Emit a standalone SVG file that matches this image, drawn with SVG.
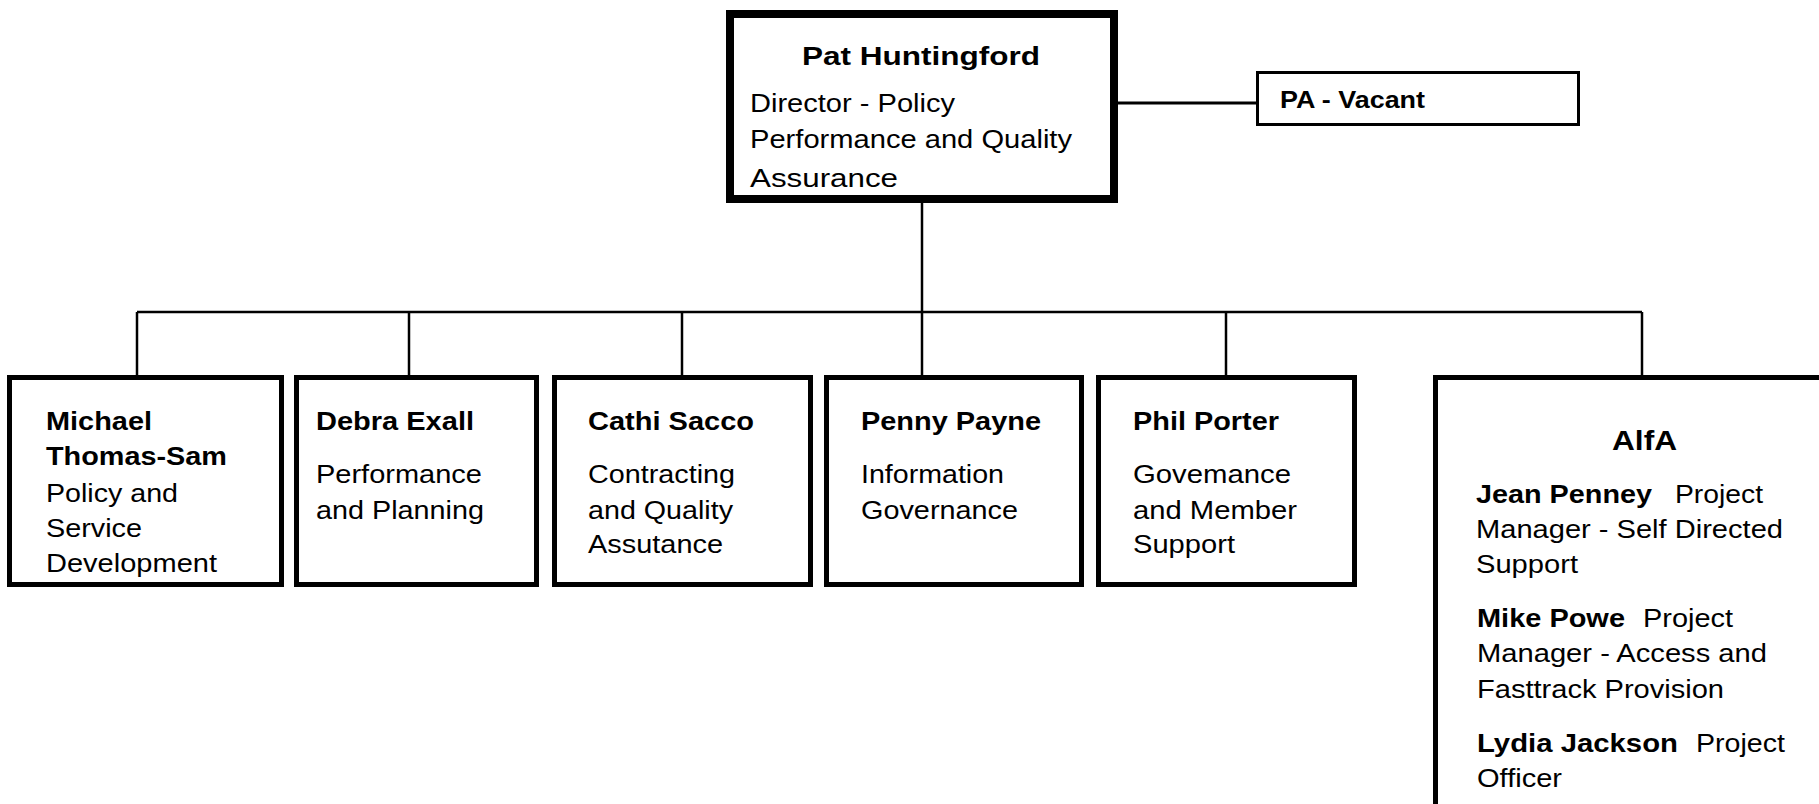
<svg xmlns="http://www.w3.org/2000/svg" width="1819" height="804" viewBox="0 0 1819 804">
<style>
  .box{fill:#fff;stroke:#000;stroke-width:5}
  .top{fill:#fff;stroke:#000;stroke-width:8}
  .thin{fill:#fff;stroke:#000;stroke-width:3}
  .ln{fill:none;stroke:#000;stroke-width:2.5}
  text{font-family:"Liberation Sans",Arial,sans-serif;font-size:25.5px;fill:#000}
  .b{font-weight:bold}
</style>
<rect width="1819" height="804" fill="#fff"/>
<g id="connectors">
  <line class="ln" x1="922" y1="203" x2="922" y2="312"/>
  <line class="ln" x1="1118" y1="103" x2="1257" y2="103" style="stroke-width:3"/>
  <line class="ln" x1="137" y1="312" x2="1642" y2="312"/>
  <line class="ln" x1="137" y1="312" x2="137" y2="376"/>
  <line class="ln" x1="409" y1="312" x2="409" y2="376"/>
  <line class="ln" x1="682" y1="312" x2="682" y2="376"/>
  <line class="ln" x1="922" y1="312" x2="922" y2="376"/>
  <line class="ln" x1="1226" y1="312" x2="1226" y2="376"/>
  <line class="ln" x1="1642" y1="312" x2="1642" y2="376"/>
</g>
<g id="node-pat">
  <rect class="top" x="730" y="14" width="384" height="185"/>
  <text class="b" x="802" y="65" textLength="238" lengthAdjust="spacingAndGlyphs">Pat Huntingford</text>
  <text x="750" y="112" textLength="205" lengthAdjust="spacingAndGlyphs">Director - Policy</text>
  <text x="750" y="148" textLength="322" lengthAdjust="spacingAndGlyphs">Performance and Quality</text>
  <text x="750" y="187" textLength="148" lengthAdjust="spacingAndGlyphs">Assurance</text>
</g>
<g id="node-pa">
  <rect class="thin" x="1257.5" y="72.5" width="321" height="52"/>
  <text class="b" x="1280" y="108" style="font-size:23px" textLength="145" lengthAdjust="spacingAndGlyphs">PA - Vacant</text>
</g>
<g id="node-michael">
  <rect class="box" x="9.5" y="377.5" width="272" height="207"/>
  <text class="b" x="46" y="430" textLength="106" lengthAdjust="spacingAndGlyphs">Michael</text>
  <text class="b" x="46" y="465" textLength="181" lengthAdjust="spacingAndGlyphs">Thomas-Sam</text>
  <text x="46" y="502" textLength="132" lengthAdjust="spacingAndGlyphs">Policy and</text>
  <text x="46" y="537" textLength="96" lengthAdjust="spacingAndGlyphs">Service</text>
  <text x="46" y="572" textLength="171" lengthAdjust="spacingAndGlyphs">Development</text>
</g>
<g id="node-debra">
  <rect class="box" x="296.5" y="377.5" width="240" height="207"/>
  <text class="b" x="316" y="430" textLength="158" lengthAdjust="spacingAndGlyphs">Debra Exall</text>
  <text x="316" y="483" textLength="166" lengthAdjust="spacingAndGlyphs">Performance</text>
  <text x="316" y="519" textLength="168" lengthAdjust="spacingAndGlyphs">and Planning</text>
</g>
<g id="node-cathi">
  <rect class="box" x="554.5" y="377.5" width="256" height="207"/>
  <text class="b" x="588" y="430" textLength="166" lengthAdjust="spacingAndGlyphs">Cathi Sacco</text>
  <text x="588" y="483" textLength="147" lengthAdjust="spacingAndGlyphs">Contracting</text>
  <text x="588" y="519" textLength="145" lengthAdjust="spacingAndGlyphs">and Quality</text>
  <text x="588" y="553" textLength="135" lengthAdjust="spacingAndGlyphs">Assutance</text>
</g>
<g id="node-penny">
  <rect class="box" x="826.5" y="377.5" width="255" height="207"/>
  <text class="b" x="861" y="430" textLength="180" lengthAdjust="spacingAndGlyphs">Penny Payne</text>
  <text x="861" y="483" textLength="143" lengthAdjust="spacingAndGlyphs">Information</text>
  <text x="861" y="519" textLength="157" lengthAdjust="spacingAndGlyphs">Governance</text>
</g>
<g id="node-phil">
  <rect class="box" x="1098.5" y="377.5" width="256" height="207"/>
  <text class="b" x="1133" y="430" textLength="146" lengthAdjust="spacingAndGlyphs">Phil Porter</text>
  <text x="1133" y="483" textLength="158" lengthAdjust="spacingAndGlyphs">Govemance</text>
  <text x="1133" y="519" textLength="164" lengthAdjust="spacingAndGlyphs">and Member</text>
  <text x="1133" y="553" textLength="102" lengthAdjust="spacingAndGlyphs">Support</text>
</g>
<g id="node-alfa">
  <rect class="box" x="1435.5" y="377.5" width="500" height="500"/>
  <text class="b" x="1612" y="450" style="font-size:28px" textLength="65" lengthAdjust="spacingAndGlyphs">AlfA</text>
  <text class="b" x="1476" y="503" textLength="176" lengthAdjust="spacingAndGlyphs">Jean Penney</text>
  <text x="1675" y="503" textLength="88" lengthAdjust="spacingAndGlyphs">Project</text>
  <text x="1476" y="538" textLength="307" lengthAdjust="spacingAndGlyphs">Manager - Self Directed</text>
  <text x="1476" y="573" textLength="102" lengthAdjust="spacingAndGlyphs">Support</text>
  <text class="b" x="1477" y="627" textLength="148" lengthAdjust="spacingAndGlyphs">Mike Powe</text>
  <text x="1643" y="627" textLength="90" lengthAdjust="spacingAndGlyphs">Project</text>
  <text x="1477" y="662" textLength="290" lengthAdjust="spacingAndGlyphs">Manager - Access and</text>
  <text x="1477" y="698" textLength="247" lengthAdjust="spacingAndGlyphs">Fasttrack Provision</text>
  <text class="b" x="1477" y="752" textLength="201" lengthAdjust="spacingAndGlyphs">Lydia Jackson</text>
  <text x="1696" y="752" textLength="89" lengthAdjust="spacingAndGlyphs">Project</text>
  <text x="1477" y="787" textLength="85" lengthAdjust="spacingAndGlyphs">Officer</text>
</g>
</svg>
